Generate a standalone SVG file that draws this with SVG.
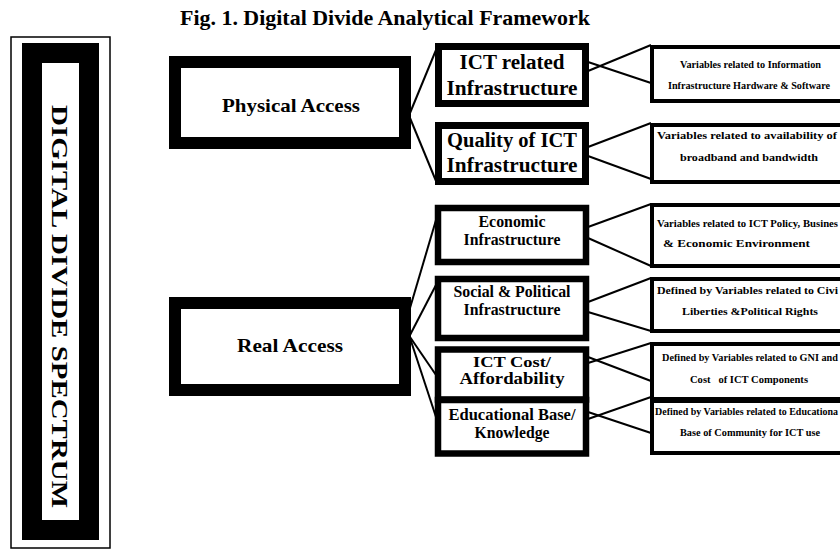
<svg xmlns="http://www.w3.org/2000/svg" width="840" height="550" viewBox="0 0 840 550">
<style>
text{font-family:"Liberation Serif","Times New Roman",serif;font-weight:bold;fill:#000}
.c{text-anchor:middle}
.e{text-anchor:end}
.box{fill:#fff;stroke:#000}
.main{stroke-width:12}
.mid{stroke-width:7}
.mid2{stroke-width:6.5}
.var{stroke-width:4}
.sm{font-size:10px}
.conn line{stroke:#000;stroke-width:2}
</style>
<rect width="840" height="550" fill="#fff"/>
<text x="180" y="25" font-size="22" textLength="410" lengthAdjust="spacingAndGlyphs">Fig. 1. Digital Divide Analytical Framework</text>

<g id="spectrum">
<rect x="11" y="37" width="99" height="511" fill="#fff" stroke="#000" stroke-width="1.5"/>
<rect x="32" y="53" width="57" height="477" fill="#fff" stroke="#000" stroke-width="20"/>
<text class="c" transform="translate(52,306.5) rotate(90)" font-size="24" textLength="403" lengthAdjust="spacingAndGlyphs">DIGITAL DIVIDE SPECTRUM</text>
</g>

<g id="physical-access">
<rect class="box main" x="175" y="62" width="230" height="81"/>
<text class="c" x="291" y="112" font-size="19" textLength="138" lengthAdjust="spacingAndGlyphs">Physical Access</text>
</g>
<g id="real-access">
<rect class="box main" x="175" y="303" width="230" height="87"/>
<text class="c" x="290" y="352" font-size="19" textLength="106" lengthAdjust="spacingAndGlyphs">Real Access</text>
</g>

<g id="ict-infra">
<rect class="box mid" x="438.5" y="46.5" width="147" height="57"/>
<text class="c" x="512" y="69" font-size="20" textLength="105" lengthAdjust="spacingAndGlyphs">ICT related</text>
<text class="c" x="512" y="95" font-size="20" textLength="131" lengthAdjust="spacingAndGlyphs">Infrastructure</text>
</g>
<g id="quality-infra">
<rect class="box mid" x="438.5" y="125.5" width="147" height="56"/>
<text class="c" x="512" y="147" font-size="20" textLength="130" lengthAdjust="spacingAndGlyphs">Quality of ICT</text>
<text class="c" x="512" y="172" font-size="20" textLength="131" lengthAdjust="spacingAndGlyphs">Infrastructure</text>
</g>
<g id="economic-infra">
<rect class="box mid2" x="438" y="208" width="148" height="54"/>
<text class="c" x="512" y="227" font-size="16" textLength="67" lengthAdjust="spacingAndGlyphs">Economic</text>
<text class="c" x="512" y="245" font-size="16" textLength="97" lengthAdjust="spacingAndGlyphs">Infrastructure</text>
</g>
<g id="social-infra">
<rect class="box mid2" x="438" y="279" width="148" height="59"/>
<text class="c" x="512" y="297" font-size="16" textLength="117" lengthAdjust="spacingAndGlyphs">Social &amp; Political</text>
<text class="c" x="512" y="315" font-size="16" textLength="97" lengthAdjust="spacingAndGlyphs">Infrastructure</text>
</g>
<g id="ict-cost">
<rect class="box mid2" x="438" y="349.5" width="148" height="50"/>
<text class="c" x="512" y="367" font-size="15.5" textLength="78" lengthAdjust="spacingAndGlyphs">ICT Cost/</text>
<text class="c" x="512" y="384" font-size="16" textLength="105" lengthAdjust="spacingAndGlyphs">Affordability</text>
</g>
<g id="education">
<rect class="box mid2" x="438" y="400" width="148" height="53.5"/>
<text class="c" x="512" y="420" font-size="16" textLength="127" lengthAdjust="spacingAndGlyphs">Educational Base/</text>
<text class="c" x="512" y="437.5" font-size="16" textLength="75" lengthAdjust="spacingAndGlyphs">Knowledge</text>
</g>

<g id="var-hardware">
<path class="box var" d="M840 47H652V101H840"/>
<text class="sm c" x="750.5" y="68" textLength="141" lengthAdjust="spacingAndGlyphs">Variables related to Information</text>
<text class="sm c" x="749" y="89" textLength="162" lengthAdjust="spacingAndGlyphs">Infrastructure Hardware &amp; Software</text>
</g>
<g id="var-broadband">
<path class="box var" d="M840 125H652V182H840"/>
<text class="sm e" x="837" y="139" textLength="180" lengthAdjust="spacingAndGlyphs">Variables related to availability of</text>
<text class="sm c" x="749" y="161" textLength="138" lengthAdjust="spacingAndGlyphs">broadband and bandwidth</text>
</g>
<g id="var-policy">
<path class="box var" d="M840 205H652V266H840"/>
<text class="sm e" x="838" y="227" textLength="181" lengthAdjust="spacingAndGlyphs">Variables related to ICT Policy, Busines</text>
<text class="sm c" x="736.5" y="247" textLength="147" lengthAdjust="spacingAndGlyphs">&amp; Economic Environment</text>
</g>
<g id="var-rights">
<path class="box var" d="M840 279H652V331H840"/>
<text class="sm e" x="838" y="294" textLength="181" lengthAdjust="spacingAndGlyphs">Defined by Variables related to Civi</text>
<text class="sm c" x="750" y="315" textLength="136" lengthAdjust="spacingAndGlyphs">Liberties &amp;Political Rights</text>
</g>
<g id="var-gni">
<path class="box var" d="M840 344H652V399H840"/>
<text class="sm e" x="838" y="361" textLength="176" lengthAdjust="spacingAndGlyphs">Defined by Variables related to GNI and</text>
<text class="sm c" x="749" y="383" textLength="118" lengthAdjust="spacingAndGlyphs" xml:space="preserve">Cost   of ICT Components</text>
</g>
<g id="var-education">
<path class="box var" d="M840 401H652V453H840"/>
<text class="e" x="838" y="415" font-size="9.7" textLength="183" lengthAdjust="spacingAndGlyphs">Defined by Variables related to Educationa</text>
<text class="sm c" x="750" y="436" textLength="140" lengthAdjust="spacingAndGlyphs">Base of Community for ICT use</text>
</g>

<g id="connectors" class="conn">
<line x1="410" y1="113" x2="436" y2="50"/>
<line x1="410" y1="118" x2="436" y2="181"/>
<line x1="410" y1="308" x2="436" y2="220"/>
<line x1="410" y1="335" x2="436" y2="285"/>
<line x1="410" y1="337" x2="436" y2="375"/>
<line x1="410" y1="338" x2="436" y2="417"/>
<line x1="588" y1="62" x2="651" y2="83"/>
<line x1="588" y1="71" x2="651" y2="45"/>
<line x1="588" y1="147" x2="651" y2="123"/>
<line x1="588" y1="156" x2="651" y2="179"/>
<line x1="588" y1="227" x2="651" y2="204"/>
<line x1="588" y1="238" x2="651" y2="266"/>
<line x1="588" y1="302" x2="651" y2="278"/>
<line x1="588" y1="312" x2="651" y2="331"/>
<line x1="588" y1="363" x2="651" y2="343"/>
<line x1="588" y1="357" x2="651" y2="381"/>
<line x1="588" y1="419" x2="651" y2="397"/>
<line x1="588" y1="412" x2="651" y2="433"/>
</g>
</svg>
